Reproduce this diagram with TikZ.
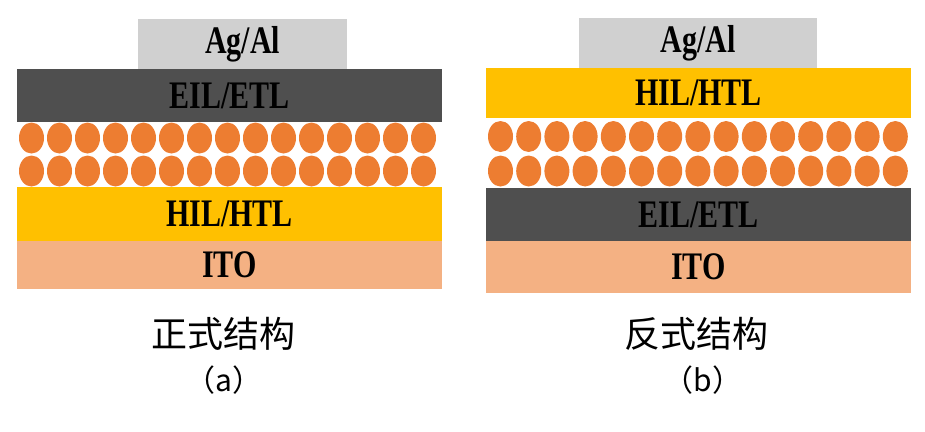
\documentclass[tikz,border=0pt]{standalone}
\usepackage{fontspec}
\setmainfont{Liberation Serif}
\newfontfamily\cjk{Noto Sans CJK SC}
\usetikzlibrary{positioning}
\definecolor{agal}{HTML}{D0D0D0}
\definecolor{etlgrey}{HTML}{4F4F4F}
\definecolor{htlyellow}{HTML}{FFC000}
\definecolor{itopink}{HTML}{F4B183}
\definecolor{dotorange}{HTML}{ED7D31}
\newcommand{\laytext}[1]{\scalebox{1}[1.3]{\fontsize{30}{30}\selectfont\bfseries #1}}
\tikzset{
  layer/.style={inner sep=0pt, outer sep=0pt, anchor=north west},
  dot/.style={fill=dotorange},
  caption/.style={inner sep=0pt}
}
\begin{document}
\begin{tikzpicture}[x=1pt,y=-1pt]
\useasboundingbox (0,0) rectangle (925,431);
% (a) conventional stack
\node [layer, fill=agal, minimum width=209pt, minimum height=50pt] (aga) at (138,19) {\laytext{Ag/Al}};
\node [layer, fill=etlgrey, minimum width=425pt, minimum height=53pt] (etla) at (17,69) {\laytext{EIL/ETL}};
\foreach \i in {0,...,14} {
  \fill [dot] (31.5+28*\i,138) ellipse [x radius=12.5pt, y radius=15.5pt];
  \fill [dot] (31.5+28*\i,171) ellipse [x radius=12.5pt, y radius=15.5pt];
}
\node [layer, fill=htlyellow, minimum width=425pt, minimum height=54pt] (htla) at (17,187) {\laytext{HIL/HTL}};
\node [layer, fill=itopink, minimum width=425pt, minimum height=48pt] (itoa) at (17,241) {\laytext{ITO}};
% (b) inverted stack
\node [layer, fill=agal, minimum width=238pt, minimum height=50pt] (agb) at (579,18) {\laytext{Ag/Al}};
\node [layer, fill=htlyellow, minimum width=425pt, minimum height=50pt] (htlb) at (486,68) {\laytext{HIL/HTL}};
\foreach \i in {0,...,14} {
  \fill [dot] (500.5+28.2*\i,136.5) ellipse [x radius=12.5pt, y radius=15.5pt];
  \fill [dot] (500.5+28.2*\i,171) ellipse [x radius=12.5pt, y radius=15.5pt];
}
\node [layer, fill=etlgrey, minimum width=425pt, minimum height=53pt] (etlb) at (486,188) {\laytext{EIL/ETL}};
\node [layer, fill=itopink, minimum width=425pt, minimum height=52pt] (itob) at (486,241) {\laytext{ITO}};
% captions
\node [caption] (namea) at (223,334) {\cjk\fontsize{36}{36}\selectfont 正式结构};
\node [caption] (taga) at (224,380) {\cjk\fontsize{30}{30}\selectfont （a）};
\node [caption] (nameb) at (696,334) {\cjk\fontsize{36}{36}\selectfont 反式结构};
\node [caption] (tagb) at (703,380) {\cjk\fontsize{30}{30}\selectfont （b）};
\end{tikzpicture}
\end{document}
